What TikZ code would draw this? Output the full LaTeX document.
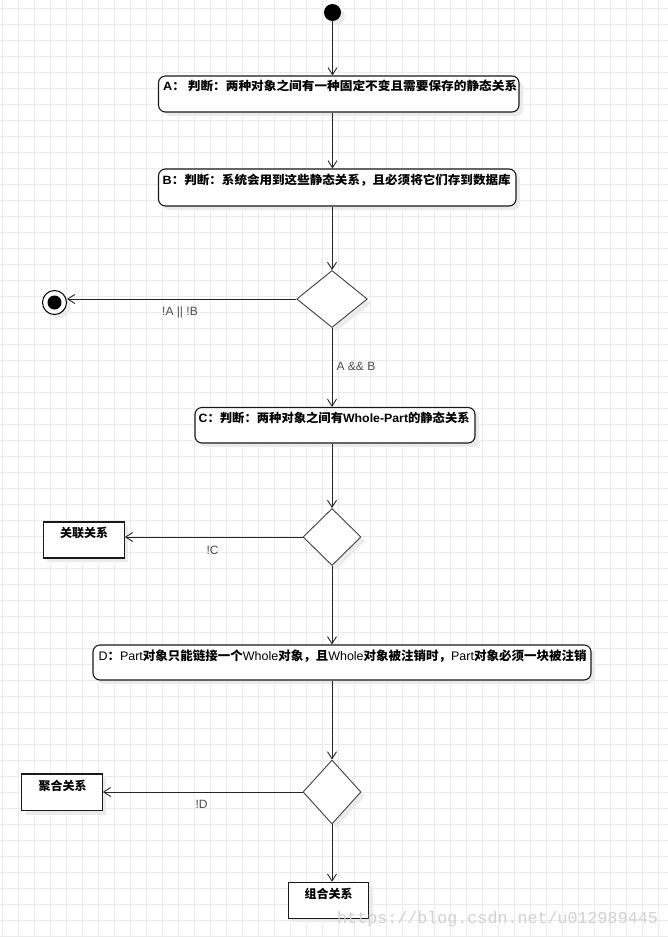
\documentclass[tikz,border=0pt]{standalone}
\usepackage{graphicx}
\usepackage{fontspec}
\setmainfont{Liberation Sans}
\newfontfamily\cjk{Noto Sans CJK SC}
\newfontfamily\wmfont{Liberation Mono}
\usetikzlibrary{arrows.meta,shapes.geometric,shadows}
\newcommand\zh[1]{{\cjk\bfseries #1}}
\newcommand\fitw[2]{\resizebox{#1}{\height}{#2}}
\begin{document}
\begin{tikzpicture}[x=1pt,y=-1pt,
  gridline/.style={draw=black!8,line width=0.8pt},
  conn/.style={draw=black!85,line width=0.9pt,-{Straight Barb[length=7pt,width=9pt,line width=0.9pt]}},
  shad/.style={drop shadow={shadow xshift=4pt,shadow yshift=-4pt,fill=black!8,opacity=1}},
  rbox/.style={draw=black!90,line width=1.1pt,rounded corners=7pt,fill=white,inner sep=0pt,shad},
  sbox/.style={draw=black!90,line width=1.1pt,fill=white,inner sep=0pt,shad},
  dia/.style={diamond,draw=black!75,line width=0.9pt,fill=white,inner sep=0pt,shad},
  btext/.style={inner sep=0pt,anchor=west,font=\fontsize{12}{14}\selectfont\bfseries},
  ctext/.style={inner sep=0pt,font=\fontsize{12}{14}\selectfont},
  lbl/.style={inner sep=0pt,text=black!70,font=\fontsize{12}{14}\selectfont}
]
\useasboundingbox (0,0) rectangle (668,937);
\fill[white] (0,0) rectangle (668,937);
\foreach \i in {0,...,41} \draw[gridline] ({2+16*\i},0) -- ({2+16*\i},937);
\foreach \i in {0,...,58} \draw[gridline] (0,{8+16*\i}) -- (668,{8+16*\i});

% start
\node[circle,fill=black,minimum size=17pt,inner sep=0pt,shad] (S) at (332.5,12.5) {};
% boxes
\node[rbox,minimum width=360.5pt,minimum height=36pt] (A) at (338.75,94) {};
\node[btext] (At) at (163,86) {\fitw{354pt}{A\zh{：\ 判断：两种对象之间有一种固定不变且需要保存的静态关系}}};
\node[rbox,minimum width=357.5pt,minimum height=37pt] (B) at (337.25,187.5) {};
\node[btext] (Bt) at (162.5,180) {\fitw{348pt}{B\zh{：判断：系统会用到这些静态关系，且必须将它们存到数据库}}};
\node[dia,minimum width=70.6pt,minimum height=57pt] (Dm1) at (332,299) {};
\node[circle,draw=black,line width=1pt,fill=white,minimum size=24pt,inner sep=0pt,shad] (E) at (54.5,302.5) {};
\node[circle,fill=black,minimum size=14pt,inner sep=0pt] (Ei) at (E) {};
\node[rbox,minimum width=280pt,minimum height=35.5pt] (C) at (335,425.25) {};
\node[btext] (Ct) at (198.5,418) {\fitw{271pt}{C\zh{：判断：两种对象之间有}Whole-Part\zh{的静态关系}}};
\node[dia,minimum width=58pt,minimum height=57pt] (Dm2) at (332,537) {};
\node[sbox,minimum width=81pt,minimum height=36pt] (R1) at (83.8,540) {};
\node[ctext] (R1t) at (84,533) {\zh{关联关系}};
\node[rbox,minimum width=498pt,minimum height=35pt] (D) at (342,662.5) {};
\node[btext,font=\fontsize{12.4}{14}\selectfont] (Dt) at (98.3,656) {\fitw{488pt}{D\zh{：}Part\zh{对象只能链接一个}Whole\zh{对象，且}Whole\zh{对象被注销时，}Part\zh{对象必须一块被注销}}};
\node[dia,minimum width=58pt,minimum height=64pt] (Dm3) at (332,792) {};
\node[sbox,minimum width=80.6pt,minimum height=36.7pt] (R2) at (62,792.3) {};
\node[ctext] (R2t) at (62.5,786) {\zh{聚合关系}};
\node[sbox,minimum width=80.4pt,minimum height=36pt] (R3) at (328.5,900.3) {};
\node[ctext] (R3t) at (328.5,894) {\zh{组合关系}};

% connectors
\draw[conn] (S) -- (S |- A.north);
\draw[conn] (A.south -| S) -- (B.north -| S);
\draw[conn] (B.south -| Dm1) -- (Dm1.north);
\draw[conn] (Dm1.west) -- (Dm1.west -| E.east);
\draw[conn] (Dm1.south) -- (Dm1.south |- C.north);
\draw[conn] (C.south -| Dm2) -- (Dm2.north);
\draw[conn] (Dm2.west) -- (Dm2.west -| R1.east);
\draw[conn] (Dm2.south) -- (Dm2.south |- D.north);
\draw[conn] (D.south -| Dm3) -- (Dm3.north);
\draw[conn] (Dm3.west) -- (Dm3.west -| R2.east);
\draw[conn] (Dm3.south) -- (Dm3.south |- R3.north);

% labels
\node[lbl] (l1) at (180,312) {!A || !B};
\node[lbl] (l2) at (356,366) {A \&\& B};
\node[lbl] (l3) at (212.5,550) {!C};
\node[lbl] (l4) at (201.5,804.5) {!D};

% watermark
\node[anchor=base west,inner sep=0pt,text=black!18,font=\wmfont\fontsize{16.7}{18}\selectfont] (wm) at (337,923) {https://blog.csdn.net/u012989445};
\end{tikzpicture}
\end{document}
